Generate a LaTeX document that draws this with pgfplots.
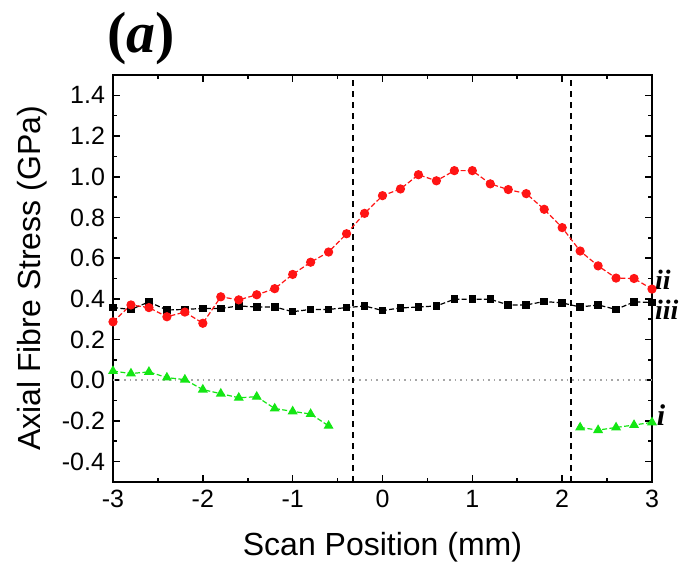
\documentclass[border=0pt]{standalone}
\usepackage{pgfplots}
\pgfplotsset{compat=1.18}
\usepackage{fontspec}
\setmainfont{Liberation Sans}
\newfontfamily\timesf{Liberation Serif}
\definecolor{myred}{RGB}{255,20,20}
\definecolor{mygreen}{RGB}{20,230,20}
\begin{document}
\begin{tikzpicture}
\path[use as bounding box] (-56.5pt,-41.5pt) rectangle (285pt,241pt);
\begin{axis}[
  scale only axis, width=269.5pt, height=203.5pt,
  xmin=-3, xmax=3, ymin=-0.5, ymax=1.5,
  clip=false,
  axis line style={line width=1pt},
  tick style={line width=0.8pt, black},
  tick align=inside,
  major tick length=3.5pt, minor tick length=2pt,
  xtick={-3,-2,...,3}, minor xtick={-2.5,-1.5,...,2.5},
  ytick={-0.4,-0.2,...,1.41}, minor ytick={-0.5,-0.3,...,1.5},
  y tick label style={/pgf/number format/fixed, /pgf/number format/fixed zerofill, /pgf/number format/precision=1},
  /pgf/number format/assume math mode=true,
  ticklabel style={font=\fontsize{12.5}{14}\selectfont},
  xticklabel style={anchor=base, yshift=-13pt},
  yticklabel style={anchor=east, xshift=-0.5pt},
  xlabel={Scan Position (mm)},
  ylabel={Axial Fibre Stress (GPa)},
  label style={font=\fontsize{16}{18}\selectfont},
  xlabel style={at={(rel axis cs:0.5,0)}, anchor=base, yshift=-37pt},
  ylabel style={at={(rel axis cs:0,0.5)}, anchor=base, yshift=36pt},
]
% reference lines
\addplot[gray!70, dotted, line width=0.8pt, forget plot] coordinates {(-3,0) (3,0)};
\addplot[black, line width=1pt, dash pattern=on 3pt off 2.5pt, forget plot] coordinates {(-0.33,-0.5) (-0.33,1.5)};
\addplot[black, line width=1pt, dash pattern=on 3pt off 2.5pt, forget plot] coordinates {(2.1,-0.5) (2.1,1.5)};
% iii black squares
\addplot[black, line width=0.6pt, dash pattern=on 2.5pt off 1.2pt, mark=square*, mark size=1.6pt, mark options={solid}] coordinates {
(-3,0.357) (-2.8,0.348) (-2.6,0.385) (-2.4,0.345) (-2.2,0.348) (-2.0,0.353)
(-1.8,0.353) (-1.6,0.365) (-1.4,0.36) (-1.2,0.36) (-1.0,0.337) (-0.8,0.348)
(-0.6,0.348) (-0.4,0.357) (-0.2,0.365) (0,0.343) (0.2,0.355) (0.4,0.36)
(0.6,0.365) (0.8,0.398) (1.0,0.398) (1.2,0.398) (1.4,0.37) (1.6,0.37)
(1.8,0.387) (2.0,0.38) (2.2,0.36) (2.4,0.37) (2.6,0.348) (2.8,0.385) (3.0,0.382)};
% ii red circles
\addplot[myred, line width=0.6pt, dash pattern=on 2.5pt off 1.2pt, mark=*, mark size=2pt, mark options={solid}] coordinates {
(-3,0.287) (-2.8,0.37) (-2.6,0.357) (-2.4,0.312) (-2.2,0.335) (-2.0,0.28)
(-1.8,0.41) (-1.6,0.395) (-1.4,0.42) (-1.2,0.45) (-1.0,0.52) (-0.8,0.58)
(-0.6,0.63) (-0.4,0.72) (-0.2,0.82) (0,0.907) (0.2,0.94) (0.4,1.01)
(0.6,0.98) (0.8,1.03) (1.0,1.03) (1.2,0.965) (1.4,0.937) (1.6,0.917)
(1.8,0.84) (2.0,0.75) (2.2,0.635) (2.4,0.562) (2.6,0.502) (2.8,0.50) (3.0,0.448)};
% i green triangles
\addplot[mygreen, line width=0.6pt, dash pattern=on 2.5pt off 1.2pt, mark=triangle*, mark size=2.3pt, mark options={solid}] coordinates {
(-3,0.045) (-2.8,0.033) (-2.6,0.041) (-2.4,0.013) (-2.2,0.003) (-2.0,-0.046)
(-1.8,-0.066) (-1.6,-0.086) (-1.4,-0.081) (-1.2,-0.139) (-1.0,-0.153) (-0.8,-0.166) (-0.6,-0.224)};
\addplot[mygreen, line width=0.6pt, dash pattern=on 2.5pt off 1.2pt, mark=triangle*, mark size=2.3pt, mark options={solid}] coordinates {
(2.2,-0.232) (2.4,-0.245) (2.6,-0.232) (2.8,-0.22) (3.0,-0.207)};
% series labels
\node[anchor=base west, inner sep=0pt, font=\timesf\bfseries\itshape\fontsize{14}{14}\selectfont] at (axis cs:3.03,0.448) {ii};
\node[anchor=base west, inner sep=0pt, font=\timesf\bfseries\itshape\fontsize{14}{14}\selectfont] at (axis cs:3.03,0.300) {iii};
\node[anchor=base west, inner sep=0pt, font=\timesf\bfseries\itshape\fontsize{15}{15}\selectfont] at (axis cs:3.05,-0.224) {i};
% panel title
\node[anchor=base west, inner sep=0pt, font=\timesf\bfseries\fontsize{29}{29}\selectfont] at (rel axis cs:0,1) [xshift=-3pt, yshift=11pt] {(\textit{a})};
\end{axis}
\end{tikzpicture}
\end{document}
